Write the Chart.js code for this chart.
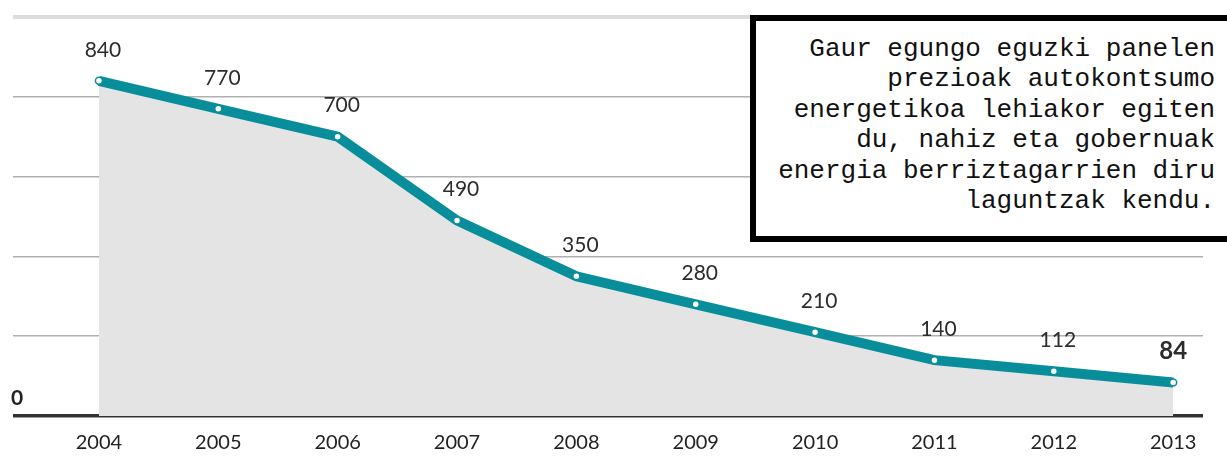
<!DOCTYPE html>
<html>
<head>
<meta charset="utf-8">
<script src="https://cdn.jsdelivr.net/npm/chart.js"></script>
<style>
  html, body { margin: 0; padding: 0; background: #fff; overflow: hidden; }
  #wrap { position: relative; width: 1227px; height: 458px; }
  #note {
    position: absolute; left: 750px; top: 15px; width: 490px; height: 215px;
    border: 6px solid #000; background: #fff; box-sizing: content-box;
    font-family: "Liberation Mono", "Courier New", monospace; font-size: 26px;
    line-height: 30.4px; color: #111; text-align: right;
  }
  #note div { position: absolute; right: 31px; top: 13px; white-space: pre; }
</style>
</head>
<body>
<div id="wrap">
  <canvas id="c" width="1227" height="458"></canvas>
  <div id="note"><div>Gaur egungo eguzki panelen
prezioak autokontsumo
energetikoa lehiakor egiten
du, nahiz eta gobernuak
energia berriztagarrien diru
laguntzak kendu.</div></div>
</div>
<script>
// ── DATA
const years  = [2004, 2005, 2006, 2007, 2008, 2009, 2010, 2011, 2012, 2013];
const prices = [840, 770, 700, 490, 350, 280, 210, 140, 112, 84];
const yTicks = [0, 200, 400, 600, 800, 1000];

const teal = '#078e9a';

// ── drop lines, value labels and the "0" mark
const extras = {
  id: 'extras',
  beforeDatasetsDraw(chart) {
    const { ctx, scales: { x, y } } = chart;
    ctx.save();
    ctx.strokeStyle = '#555';
    ctx.lineWidth = 1;
    ctx.setLineDash([2, 3]);
    years.forEach((yr, i) => {
      if (i === 0 || i === years.length - 1) return;
      const px = Math.round(x.getPixelForValue(yr)) + 0.5;
      ctx.beginPath();
      ctx.moveTo(px, y.getPixelForValue(prices[i]));
      ctx.lineTo(px, y.getPixelForValue(0) - 2);
      ctx.stroke();
    });
    ctx.restore();
  },
  afterDatasetsDraw(chart) {
    const { ctx, scales: { x, y } } = chart;
    ctx.save();
    ctx.fillStyle = '#2c2c2c';
    ctx.textAlign = 'center';
    ctx.textBaseline = 'middle';
    prices.forEach((v, i) => {
      const last = i === prices.length - 1;
      ctx.font = last ? 'bold 24px Lato' : '21px Lato';
      ctx.fillText(String(v), x.getPixelForValue(years[i]) + (last ? 0 : 4), y.getPixelForValue(v) - 31);
    });
    ctx.font = 'bold 21px Lato';
    ctx.textAlign = 'left';
    ctx.textBaseline = 'alphabetic';
    ctx.fillStyle = '#222';
    ctx.fillText('0', 11, y.getPixelForValue(0) - 11);
    ctx.restore();
  }
};

new Chart(document.getElementById('c'), {
  type: 'line',
  data: {
    datasets: [{
      data: years.map((yr, i) => ({ x: yr, y: prices[i] })),
      borderColor: teal,
      borderWidth: 10,
      backgroundColor: '#e4e4e4',
      fill: 'origin',
      tension: 0,
      pointRadius: 3.5,
      pointBorderWidth: 1.5,
      pointBackgroundColor: '#fff',
      pointBorderColor: teal,
    }]
  },
  options: {
    responsive: false,
    animation: false,
    layout: { padding: { left: 13, right: 24, top: 17, bottom: 0 } },
    plugins: { legend: { display: false }, tooltip: { enabled: false } },
    scales: {
      x: {
        type: 'linear',
        min: 2003.28,
        max: 2013.25,
        afterBuildTicks: s => { s.ticks = years.map(v => ({ value: v })); },
        afterFit: s => { s.height = 42; },
        grid: { display: false, drawTicks: false },
        border: { display: false },
        ticks: {
          padding: 15,
          color: '#222',
          font: { family: 'Lato', size: 20 },
          callback: v => String(v),
          maxRotation: 0,
          autoSkip: false
        }
      },
      y: {
        min: 0,
        max: 1000,
        afterBuildTicks: s => { s.ticks = yTicks.map(v => ({ value: v })); },
        afterFit: s => { s.width = 0; },
        border: { display: false },
        ticks: { display: false },
        grid: {
          drawTicks: false,
          color: c => c.tick.value === 0 ? '#333' : (c.tick.value === 1000 ? '#dcdcdc' : '#b0b0b0'),
          lineWidth: c => c.tick.value === 0 ? 3.5 : (c.tick.value === 1000 ? 4 : 1.5)
        }
      }
    }
  },
  plugins: [extras]
});
</script>
</body>
</html>
